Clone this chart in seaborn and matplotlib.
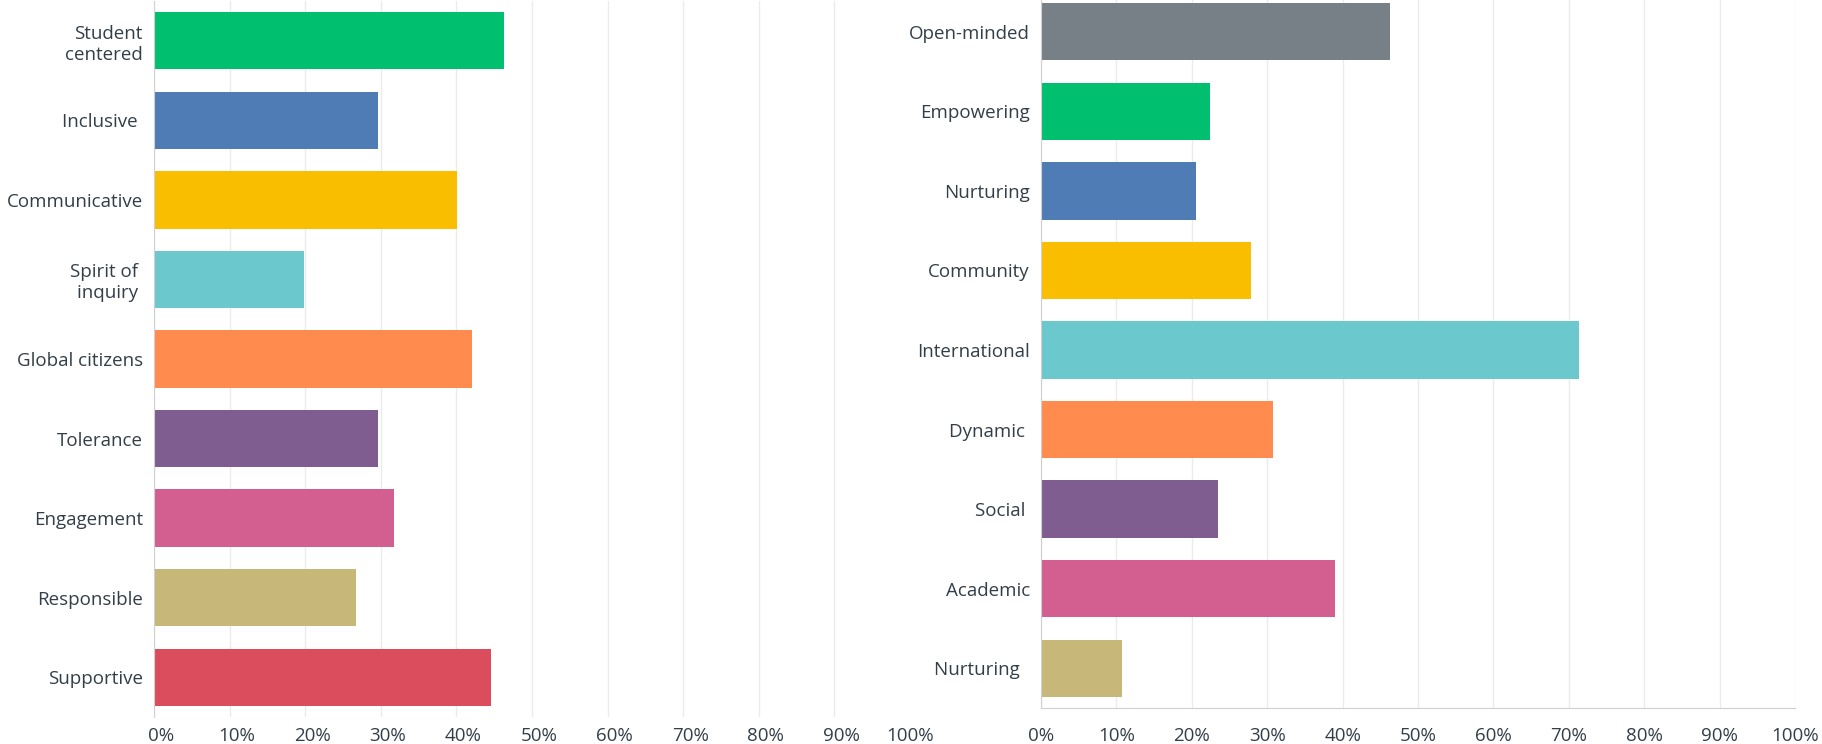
import matplotlib
matplotlib.use("Agg")
import matplotlib.pyplot as plt
import matplotlib.transforms as mtransforms
import seaborn as sns
import pandas as pd
from matplotlib.ticker import FuncFormatter

# left panel
left_labels = ["Student\ncentered", "Inclusive ", "Communicative", "Spirit of \ninquiry ",
               "Global citizens", "Tolerance", "Engagement", "Responsible", "Supportive"]
left_values = [46.3, 29.6, 40.1, 19.9, 42.0, 29.6, 31.8, 26.7, 44.6]
left_colors = ["#00BF6F", "#507CB6", "#F9BE00", "#6BC8CD", "#FF8B4F",
               "#7F5D90", "#D25F90", "#C7B879", "#DB4D5C"]

# right panel
right_labels = ["Open-minded", "Empowering", "Nurturing", "Community", "International",
                "Dynamic ", "Social ", "Academic", "Nurturing  "]
right_values = [46.3, 22.4, 20.6, 27.8, 71.4, 30.8, 23.5, 39.0, 10.7]
right_colors = ["#768086", "#00BF6F", "#507CB6", "#F9BE00", "#6BC8CD",
                "#FF8B4F", "#7F5D90", "#D25F90", "#C7B879"]

xticks = list(range(0, 101, 10))

sns.set_style("white")
plt.rcParams['font.family'] = ['Open Sans', 'DejaVu Sans']
TEXT = "#333E48"

fig = plt.figure(figsize=(18.22, 7.44), dpi=100)
ax1 = fig.add_axes([154 / 1822, 27 / 744, 756 / 1822, 716 / 744])
ax2 = fig.add_axes([1041 / 1822, 36 / 744, 754 / 1822, 716 / 744])


def draw_panel(ax, labels, values, colors, bar_width, pad):
    df = pd.DataFrame({"label": labels, "value": values})
    sns.barplot(data=df, x="value", y="label", hue="label", palette=colors,
                orient="h", width=bar_width, legend=False, ax=ax,
                edgecolor="none", saturation=1)
    ax.set_xlim(0, 100)
    ax.set_xticks(xticks)
    ax.xaxis.set_major_formatter(FuncFormatter(lambda v, _: f"{int(v)}%"))
    ax.set_xlabel("")
    ax.set_ylabel("")
    ax.grid(axis="x", color="#EBEBEB", linewidth=1)
    ax.set_axisbelow(True)
    for s in ["top", "right", "bottom"]:
        ax.spines[s].set_visible(False)
    ax.spines["left"].set_color("#D0D0D0")
    ax.tick_params(axis="x", length=0, pad=pad, labelsize=13.5, labelcolor=TEXT)
    ax.tick_params(axis="y", length=0, pad=8, labelsize=13.5, labelcolor=TEXT)


draw_panel(ax1, left_labels, left_values, left_colors, 0.72, 7.5)
draw_panel(ax2, right_labels, right_values, right_colors, 0.72, 14)
ax2.spines["bottom"].set_visible(True)
ax2.spines["bottom"].set_color("#D0D0D0")

# the left panel has no 100% gridline in the original
ax1.get_xgridlines()[-1].set_visible(False)

# left panel's percent labels sit a little right of their gridlines
shift = mtransforms.ScaledTranslation(7 / 100, 0, fig.dpi_scale_trans)
for lbl in ax1.get_xticklabels()[:-1]:
    lbl.set_transform(lbl.get_transform() + shift)

fig.savefig("out.png", dpi=100)
